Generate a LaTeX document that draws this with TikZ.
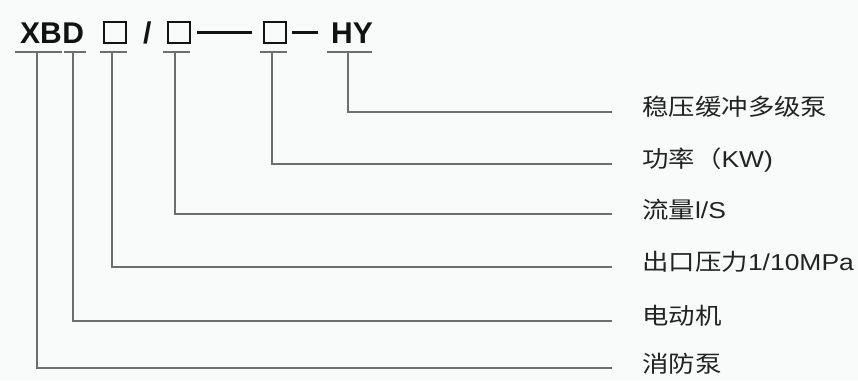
\documentclass[tikz,border=0pt]{standalone}
\usepackage{fontspec}
\setmainfont{Liberation Sans}
\newfontfamily\cjk[FakeStretch=1.15]{Noto Sans CJK SC}
\newfontfamily\lat[FakeStretch=1.15]{Liberation Sans}
\definecolor{bg}{RGB}{249,251,251}
\definecolor{ln}{RGB}{110,110,110}
\definecolor{tx}{RGB}{18,18,18}
\definecolor{lt}{RGB}{35,35,35}
\begin{document}
\begin{tikzpicture}[x=1pt,y=-1pt,
  topt/.style={font=\fontsize{30}{30}\selectfont\bfseries, text=tx, inner sep=0pt, anchor=base west},
  sq/.style={draw=tx, line width=2pt, minimum width=22pt, minimum height=21pt, inner sep=0pt},
  dashl/.style={line width=2.5pt, draw=tx},
  uline/.style={line width=1.8pt, draw=ln},
  lead/.style={line width=1.8pt, draw=ln},
  lab/.style={anchor=west, inner xsep=30pt, inner ysep=0pt, text=lt,
    font=\fontsize{23}{27}\selectfont, text height=0.88em, text depth=0.12em}]
\fill[bg] (0,0) rectangle (858,380);
\useasboundingbox (0,0) rectangle (858,380);

% top code
\node[topt] (xb) at (20,43) {XB};
\node[topt] (d) at (xb.base east) {D};
\node[sq] (s1) at (115,32.5) {};
\node[topt] (sl) at (143,43) {/};
\node[sq] (s2) at (178.5,32.5) {};
\node[sq] (s3) at (275,32.5) {};
\node[topt] (hy) at (331,43) {HY};
\draw[dashl, shorten <=6.5pt, shorten >=11pt] (s2.east) -- (s2.east -| s3.west);
\draw[dashl, shorten <=5pt, shorten >=13pt] (s3.east) -- (s3.east -| hy.west);

% underlines
\draw[uline] (15,51.7) -- (62,51.7);
\draw[uline] (64,51.7) -- (86,51.7);
\draw[uline] (100,51.7) -- (127,51.7);
\draw[uline] (163,51.7) -- (190,51.7);
\draw[uline] (260,51.7) -- (287,51.7);
\draw[uline] (327,51.7) -- (372,51.7);

\coordinate (v1) at (37,51.7);
\coordinate (v2) at (73,51.7);
\coordinate (v3) at (112,51.7);
\coordinate (v4) at (175,51.7);
\coordinate (v5) at (272,51.7);
\coordinate (v6) at (348,51.7);

% labels
\node[lab] (l1) at (612,111.7) {{\cjk 稳压缓冲多级泵}};
\node[lab] (l2) at (612,163.7) {{\cjk 功率（}{\lat KW)}};
\node[lab] (l3) at (612,214.3) {{\cjk 流量}{\lat l/S}};
\node[lab] (l4) at (612,266.7) {{\cjk 出口压力}{\lat 1/10MPa}};
\node[lab] (l5) at (612,320.7) {{\cjk 电动机}};
\node[lab] (l6) at (612,368.3) {{\cjk 消防泵}};

% leaders
\draw[lead] (v6) |- (l1.west);
\draw[lead] (v5) |- (l2.west);
\draw[lead] (v4) |- (l3.west);
\draw[lead] (v3) |- (l4.west);
\draw[lead] (v2) |- (l5.west);
\draw[lead] (v1) |- (l6.west);
\end{tikzpicture}
\end{document}
